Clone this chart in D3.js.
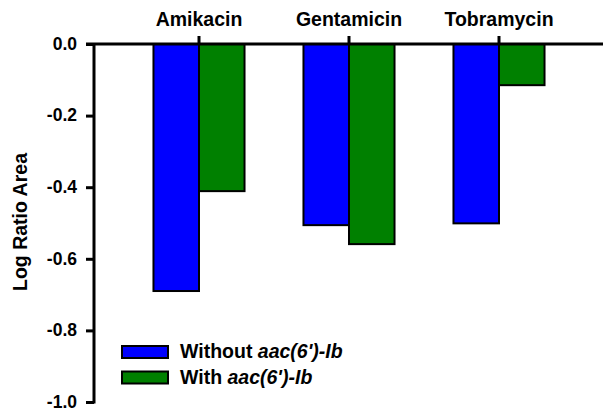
<!DOCTYPE html>
<html>
<head>
<meta charset="utf-8">
<script src="https://cdn.jsdelivr.net/npm/d3@7"></script>
<style>
  body { margin: 0; background: #fff; }
  text { font-family: "Liberation Sans", Arial, sans-serif; font-weight: bold; fill: #000; }
</style>
</head>
<body>
<div id="chart"></div>
<script>
const categories = ['Amikacin', 'Gentamicin', 'Tobramycin'];
const seriesNames = ['Without', 'With'];
const withoutValues = [-0.69, -0.506, -0.501];
const withValues = [-0.411, -0.559, -0.115];
const colors = ['#0000ff', '#008000'];
const yTicks = [0, -0.2, -0.4, -0.6, -0.8, -1.0];

const width = 603, height = 410;
const svg = d3.select('#chart').append('svg')
  .attr('width', width)
  .attr('height', height);

const y = d3.scaleLinear().domain([0, -1]).range([44, 402]);
const x = d3.scaleBand().domain(categories).range([124, 574])
  .paddingInner(0.393).paddingOuter(0.1965);
const xs = d3.scaleBand().domain(seriesNames).range([0, x.bandwidth()]);

const data = categories.map(function(c, i) {
  return { name: c, values: [withoutValues[i], withValues[i]] };
});

// bars
const groups = svg.selectAll('.grp')
  .data(data)
  .enter().append('g')
  .attr('transform', function(d) { return 'translate(' + x(d.name) + ',0)'; });

groups.selectAll('rect')
  .data(function(d) { return d.values.map(function(v, j) { return { s: seriesNames[j], v: v, j: j }; }); })
  .enter().append('rect')
  .attr('x', function(d) { return xs(d.s); })
  .attr('y', y(0))
  .attr('width', xs.bandwidth())
  .attr('height', function(d) { return y(d.v) - y(0); })
  .attr('fill', function(d) { return colors[d.j]; })
  .attr('stroke', '#000')
  .attr('stroke-width', 2);

// left axis (plain hyphen for the minus, like the original)
const yAxis = svg.append('g')
  .attr('transform', 'translate(94,0)')
  .call(d3.axisLeft(y).tickValues(yTicks)
    .tickFormat(function(d) { return d.toFixed(1); })
    .tickSize(8).tickPadding(9));
yAxis.select('.domain').remove();
yAxis.selectAll('.tick line').attr('stroke', '#000').attr('stroke-width', 3);
yAxis.selectAll('.tick text').attr('font-size', 17.5).attr('dy', '0.3em');
yAxis.append('line')
  .attr('x1', 0).attr('x2', 0)
  .attr('y1', y(0)).attr('y2', y(-1) + 1.5)
  .attr('stroke', '#000').attr('stroke-width', 3);

// top category axis
const xAxis = svg.append('g')
  .attr('transform', 'translate(0,' + y(0) + ')')
  .call(d3.axisTop(x).tickSize(8).tickPadding(10));
xAxis.select('.domain').remove();
xAxis.selectAll('.tick line').attr('stroke', '#000').attr('stroke-width', 3);
xAxis.selectAll('.tick text').attr('font-size', 19.5);
xAxis.append('line')
  .attr('x1', 86).attr('x2', width)
  .attr('y1', 0).attr('y2', 0)
  .attr('stroke', '#000').attr('stroke-width', 3);

// y title
svg.append('text')
  .attr('transform', 'translate(27,' + 222 + ') rotate(-90)')
  .attr('text-anchor', 'middle')
  .attr('font-size', 19.5)
  .text('Log Ratio Area');

// legend
const legend = svg.selectAll('.leg')
  .data(seriesNames)
  .enter().append('g')
  .attr('transform', function(d, i) { return 'translate(122,' + (346 + i * 25.5) + ')'; });

legend.append('rect')
  .attr('width', 46).attr('height', 12)
  .attr('fill', function(d, i) { return colors[i]; })
  .attr('stroke', '#000').attr('stroke-width', 2);

const lt = legend.append('text')
  .attr('x', 58).attr('y', 12)
  .attr('font-size', 19.5);
lt.append('tspan').text(function(d) { return d + ' '; });
lt.append('tspan').attr('font-style', 'italic').text("aac(6')-Ib");
</script>
</body>
</html>
